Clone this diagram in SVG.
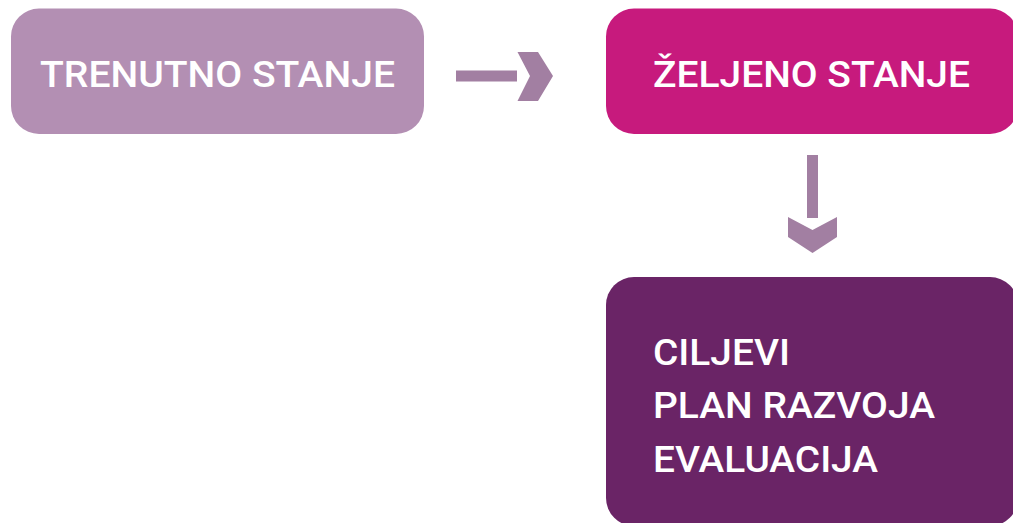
<svg xmlns="http://www.w3.org/2000/svg" width="1013" height="523" viewBox="0 0 1013 523">
<style>
.lbl{font-family:Roboto,"DejaVu Sans Condensed","Liberation Sans",sans-serif;font-size:37px;fill:#ffffff;font-weight:500}
.arr{fill:#A27FA2}
</style>
<rect width="1013" height="523" fill="#ffffff"/>
<g id="node-trenutno">
<rect x="11" y="8.5" width="413" height="125.5" rx="28" fill="#B38FB3"/>
<text class="lbl" x="40" y="87" textLength="355" lengthAdjust="spacingAndGlyphs">TRENUTNO STANJE</text>
</g>
<g id="node-zeljeno">
<rect x="606" y="8.5" width="412" height="125.5" rx="28" fill="#C71A7D"/>
<text class="lbl" x="653" y="87" textLength="317" lengthAdjust="spacingAndGlyphs">ŽELJENO STANJE</text>
</g>
<g id="node-ciljevi">
<rect x="606" y="277" width="412" height="249" rx="28" fill="#6A2466"/>
<text class="lbl" x="653" y="365" textLength="137" lengthAdjust="spacingAndGlyphs">CILJEVI</text>
<text class="lbl" x="653" y="418" textLength="282" lengthAdjust="spacingAndGlyphs">PLAN RAZVOJA</text>
<text class="lbl" x="653" y="472" textLength="225" lengthAdjust="spacingAndGlyphs">EVALUACIJA</text>
</g>
<g id="connectors">
<rect class="arr" x="456" y="70.5" width="61" height="11"/>
<polygon class="arr" points="517.5,52 538,52 553,76 538,101 517.5,101 530,76"/>
<rect class="arr" x="807" y="155" width="11" height="63"/>
<polygon class="arr" points="788,217 812.5,230 837,217 837,237 812.5,253 788,237"/>
</g>
</svg>
